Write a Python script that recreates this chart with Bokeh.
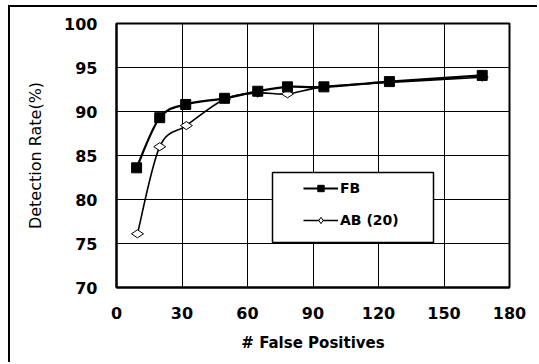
from bokeh.plotting import figure
from bokeh.models import Legend, LegendItem, BoxAnnotation, FixedTicker, Range1d
from bokeh.embed import file_html
from bokeh.resources import INLINE
import math

# data
fp_fb = [9.2, 19.8, 31.7, 49.5, 64.7, 78.3, 95.0, 125.0, 167.5]
dr_fb = [83.6, 89.3, 90.8, 91.5, 92.3, 92.8, 92.8, 93.4, 94.1]
fp_ab = [9.6, 19.8, 32.0, 49.5, 64.7, 78.3, 95.0, 125.0, 167.5]
dr_ab = [76.1, 86.0, 88.4, 91.4, 92.1, 92.0, 92.8, 93.3, 93.9]
series_names = ["FB", "AB (20)"]
x_ticks = [0, 30, 60, 90, 120, 150, 180]
y_ticks = [70, 75, 80, 85, 90, 95, 100]


def smooth_segments(xs, ys):
    """Catmull-Rom smoothing expressed as cubic Bezier control points."""
    n = len(xs)
    out = dict(x0=[], y0=[], x1=[], y1=[], cx0=[], cy0=[], cx1=[], cy1=[])
    for i in range(n - 1):
        xm = xs[i - 1] if i > 0 else xs[i]
        ym = ys[i - 1] if i > 0 else ys[i]
        xp = xs[i + 2] if i + 2 < n else xs[i + 1]
        yp = ys[i + 2] if i + 2 < n else ys[i + 1]
        out["x0"].append(xs[i]); out["y0"].append(ys[i])
        out["x1"].append(xs[i + 1]); out["y1"].append(ys[i + 1])
        out["cx0"].append(xs[i] + (xs[i + 1] - xm) / 6.0)
        out["cy0"].append(ys[i] + (ys[i + 1] - ym) / 6.0)
        out["cx1"].append(xs[i + 1] - (xp - xs[i]) / 6.0)
        out["cy1"].append(ys[i + 1] - (yp - ys[i]) / 6.0)
    return out


p = figure(width=529, height=357, output_backend="svg", toolbar_location=None,
           x_range=Range1d(0, 180), y_range=Range1d(70, 100),
           min_border_left=106, min_border_right=30, min_border_top=16, min_border_bottom=77)
p.styles = {"margin-left": "8px", "margin-top": "5px",
            "border-left": "2px solid black", "border-top": "2px solid black"}
p.background_fill_color = "white"
p.border_fill_color = "white"
p.outline_line_color = "black"
p.outline_line_width = 2

for ax in (p.xaxis[0], p.yaxis[0]):
    ax.axis_line_color = "black"
    ax.axis_line_width = 2
    ax.major_tick_in = 4
    ax.major_tick_out = 0
    ax.minor_tick_line_color = None
    ax.major_label_text_font = "DejaVu Sans"
    ax.major_label_text_font_style = "bold"
    ax.major_label_text_font_size = "16px"
    ax.major_label_text_color = "black"
    ax.axis_label_text_color = "black"
    ax.axis_label_text_font = "DejaVu Sans"

p.xaxis.ticker = FixedTicker(ticks=x_ticks)
p.yaxis.ticker = FixedTicker(ticks=y_ticks)
p.xaxis.major_label_standoff = 19
p.yaxis.major_label_standoff = 19
p.xaxis.axis_label = "# False Positives"
p.xaxis.axis_label_text_font_style = "bold"
p.xaxis.axis_label_text_font_size = "15px"
p.xaxis.axis_label_standoff = 12
p.yaxis.axis_label = "Detection Rate(%)"
p.yaxis.axis_label_text_font_style = "normal"
p.yaxis.axis_label_text_font_size = "16px"
p.yaxis.axis_label_standoff = 16

p.xgrid.ticker = FixedTicker(ticks=x_ticks)
p.ygrid.ticker = FixedTicker(ticks=y_ticks)
for g in (p.xgrid[0], p.ygrid[0]):
    g.grid_line_color = "black"
    g.grid_line_width = 1
    g.grid_line_alpha = 1

seg_fb = smooth_segments(fp_fb, dr_fb)
seg_ab = smooth_segments(fp_ab, dr_ab)

l_ab = p.bezier(source=seg_ab, x0="x0", y0="y0", x1="x1", y1="y1",
                cx0="cx0", cy0="cy0", cx1="cx1", cy1="cy1",
                line_color="black", line_width=1.6)
l_fb = p.bezier(source=seg_fb, x0="x0", y0="y0", x1="x1", y1="y1",
                cx0="cx0", cy0="cy0", cx1="cx1", cy1="cy1",
                line_color="black", line_width=2.2)
m_ab = p.scatter(fp_ab, dr_ab, marker="diamond", size=12, angle=math.pi / 2,
                 fill_color="white", line_color="black", line_width=1)
m_fb = p.scatter(fp_fb, dr_fb, marker="square", size=10,
                 fill_color="black", line_color="black")

box = BoxAnnotation(left=156, right=317, bottom=45, top=115,
                    left_units="screen", right_units="screen",
                    bottom_units="screen", top_units="screen",
                    fill_color="white", fill_alpha=1,
                    line_color="black", line_alpha=1, line_width=1.5)
p.add_layout(box)

legend = Legend(items=[LegendItem(label=series_names[0], renderers=[l_fb, m_fb]),
                       LegendItem(label=series_names[1], renderers=[l_ab, m_ab])],
                location=(187, 59))
legend.margin = 0
legend.padding = 0
legend.spacing = 16
legend.glyph_width = 35
legend.glyph_height = 16
legend.label_height = 16
legend.label_standoff = 2
legend.label_text_font = "DejaVu Sans"
legend.label_text_font_style = "bold"
legend.label_text_font_size = "14px"
legend.label_text_color = "black"
legend.border_line_alpha = 0
legend.background_fill_alpha = 0
p.add_layout(legend)

open("out.html", "w").write(file_html(p, INLINE))
